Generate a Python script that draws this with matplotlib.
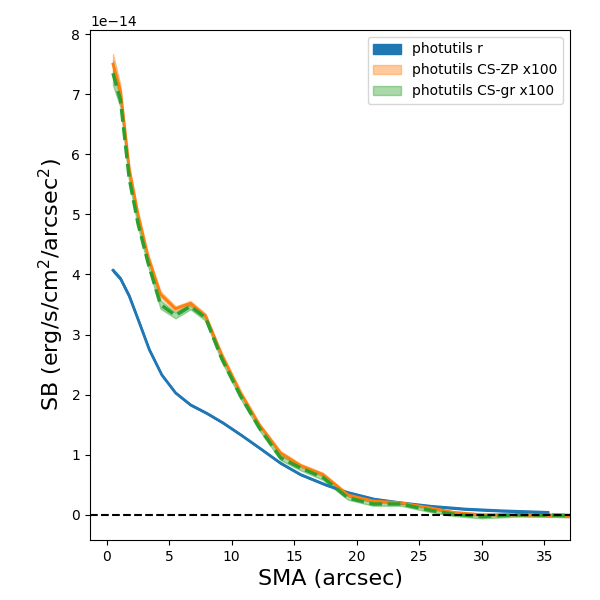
import numpy as np
import matplotlib.pyplot as plt

# photutils r profile
sma_r = [0.5, 1.1, 1.8, 2.6, 3.4, 4.4, 5.5, 6.7, 8.0, 9.3, 10.8, 12.3, 13.9,
         15.5, 17.5, 19.3, 21.4, 23.5, 26.0, 28.7, 31.5, 35.3]
sb_r = [4.07, 3.93, 3.64, 3.2, 2.75, 2.33, 2.03, 1.83, 1.69, 1.53, 1.32, 1.1,
        0.86, 0.67, 0.5, 0.37, 0.26, 0.2, 0.14, 0.095, 0.067, 0.04]
err_r = [0.02, 0.02, 0.02, 0.015, 0.015, 0.01, 0.01, 0.01, 0.01, 0.01, 0.01,
         0.01, 0.01, 0.01, 0.01, 0.01, 0.01, 0.01, 0.01, 0.01, 0.01, 0.01]

# colour-scaled profiles (x100)
sma_cs = [0.5, 1.1, 1.8, 2.5, 3.3, 4.3, 5.5, 6.7, 7.9, 9.2, 10.7, 12.2, 13.9,
          15.5, 17.3, 19.3, 21.3, 23.5, 26.0, 27.7, 30.0, 33.0, 37.0]
sb_zp = [7.5, 7.05, 5.75, 5.0, 4.3, 3.67, 3.43, 3.52, 3.31, 2.66, 2.03, 1.5,
         1.03, 0.82, 0.67, 0.33, 0.23, 0.2, 0.11, 0.04, 0.0, 0.0, -0.02]
err_zp = [0.17, 0.1, 0.06, 0.05, 0.05, 0.05, 0.04, 0.04, 0.04, 0.04, 0.04,
          0.03, 0.03, 0.03, 0.03, 0.02, 0.02, 0.02, 0.02, 0.02, 0.02, 0.02, 0.02]
sb_gr = [7.35, 6.9, 5.6, 4.85, 4.2, 3.5, 3.32, 3.47, 3.28, 2.6, 1.98, 1.45,
         0.95, 0.78, 0.62, 0.28, 0.18, 0.18, 0.07, 0.01, -0.03, 0.0, -0.01]
err_gr = [0.2, 0.12, 0.07, 0.06, 0.06, 0.07, 0.05, 0.05, 0.05, 0.05, 0.05,
          0.04, 0.04, 0.04, 0.04, 0.03, 0.03, 0.03, 0.03, 0.03, 0.03, 0.03, 0.03]

scale = 1e-14
sma_r = np.array(sma_r)
sma_cs = np.array(sma_cs)
r = np.array(sb_r) * scale
dr = np.array(err_r) * scale
zp = np.array(sb_zp) * scale
dzp = np.array(err_zp) * scale
gr = np.array(sb_gr) * scale
dgr = np.array(err_gr) * scale

fig = plt.figure(figsize=(6, 6), dpi=100)
ax = fig.add_axes([0.15, 0.1, 0.8, 0.85])

ax.fill_between(sma_r, r - dr, r + dr, color='C0', label='photutils r')
ax.plot(sma_r, r, color='C0', lw=2)
ax.fill_between(sma_cs, zp - dzp, zp + dzp, color='C1', alpha=0.4,
                label='photutils CS-ZP x100')
ax.plot(sma_cs, zp, color='C1', lw=2)
ax.fill_between(sma_cs, gr - dgr, gr + dgr, color='C2', alpha=0.4,
                label='photutils CS-gr x100')
ax.plot(sma_cs, gr, color='C2', lw=2.5, ls='--')
ax.axhline(0, color='k', ls='--', lw=1.5)

ax.set_xlim(-1.34, 37.06)
ax.set_ylim(-0.42e-14, 8.07e-14)
ax.set_xlabel('SMA (arcsec)', fontsize=16)
ax.set_ylabel('SB (erg/s/cm$^2$/arcsec$^2$)', fontsize=16)
ax.legend(loc='upper right')

plt.savefig('out.png')
